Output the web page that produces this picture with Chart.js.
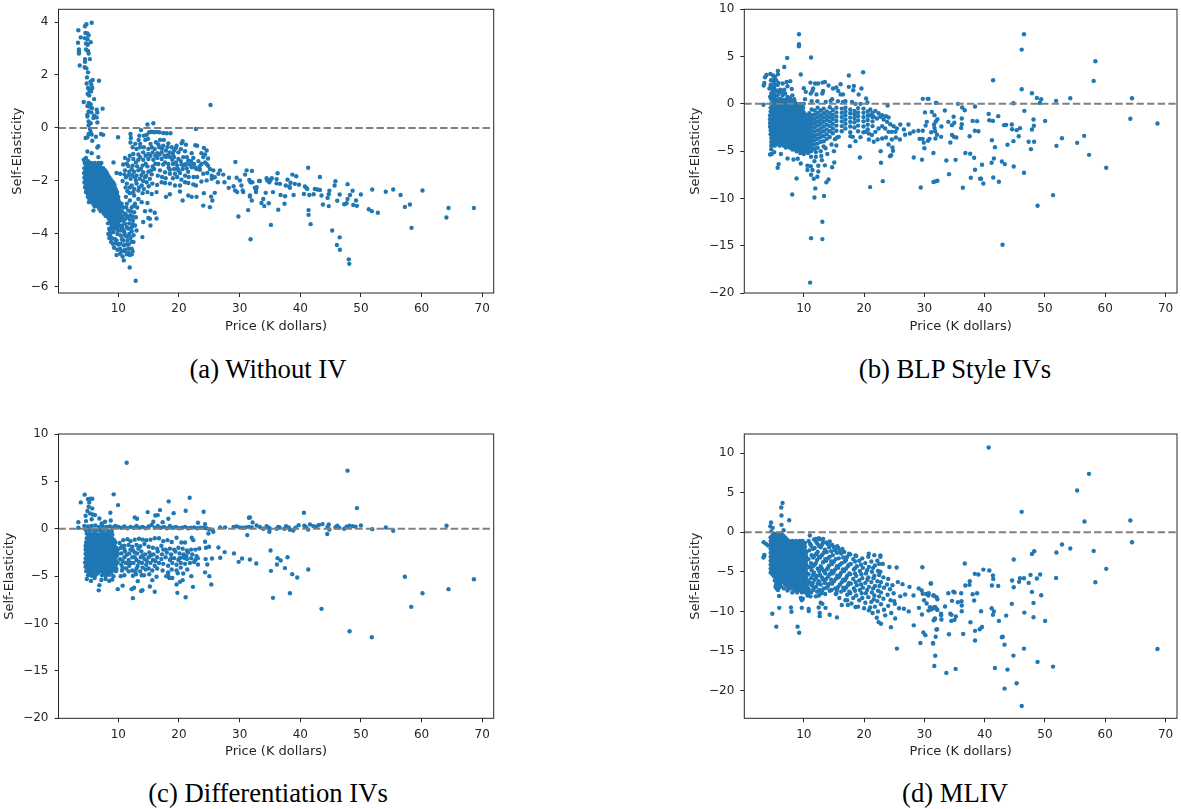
<!DOCTYPE html>
<html>
<head>
<meta charset="utf-8">
<title>Self-elasticity panels</title>
<script src="https://cdn.jsdelivr.net/npm/chart.js@4"></script>
<style>
  html, body { margin: 0; background: #fff; }
  body { position: relative; width: 1181px; height: 809px; overflow: hidden; }
  canvas { position: absolute; }
  .caption {
    position: absolute; width: 500px; text-align: center; color: #000;
    font: 26.7px "Liberation Serif", serif; line-height: 28px;
  }
</style>
</head>
<body>
<canvas id="panelA" width="590" height="350" style="left:0;top:0"></canvas>
<canvas id="panelB" width="581" height="350" style="left:600px;top:0"></canvas>
<canvas id="panelC" width="590" height="350" style="left:0;top:425px"></canvas>
<canvas id="panelD" width="581" height="350" style="left:600px;top:425px"></canvas>
<div class="caption" style="left:18px;top:355px">(a) Without IV</div>
<div class="caption" style="left:705px;top:355px">(b) BLP Style IVs</div>
<div class="caption" style="left:18px;top:779px">(c) Differentiation IVs</div>
<div class="caption" style="left:705px;top:779px">(d) MLIV</div>

<script>
const xTicks = [10, 20, 30, 40, 50, 60, 70];
const yTicksA = [4, 2, 0, -2, -4, -6];
const yTicksB = [10, 5, 0, -5, -10, -15, -20];
const yTicksC = [10, 5, 0, -5, -10, -15, -20];
const yTicksD = [10, 5, 0, -5, -10, -15, -20];

// [price, self-elasticity]
const pointsA = [
[5.6,3.97],[4.73,3.92],[4.5,3.84],[3.4,3.69],[4.56,3.59],[4.9,3.57],[5.1,3.5],[3.8,3.42],[4.5,3.39],[4.9,3.35],[5.44,3.24],[3.35,3.22],[4.67,3.19],[4.95,3.14],[4.67,2.96],[3.5,2.96],[5,2.91],[3.5,2.89],[3.5,2.81],[5.1,2.81],[4.5,2.6],[5.3,2.6],[4.5,2.5],[3.63,2.36],[4.45,2.29],[4.73,2.25],[5,2.1],[4.83,1.91],[5.77,1.81],[6.8,1.78],[5.44,1.76],[4.78,1.68],[5.55,1.63],[5,1.51],[5.7,1.51],[5.2,1.43],[5.5,1.38],[4.95,1.28],[5.2,1.23],[6,1.09],[4.29,.98],[5.1,.94],[5.44,.9],[4.9,.83],[5.33,.8],[5.66,.75],[7.4,.73],[6.43,.69],[5.1,.62],[6.54,.58],[5.55,.59],[4.9,.5],[6,.46],[4.9,.43],[6.43,.4],[5.88,.38],[5.1,.25],[5.44,.18],[6.54,.21],[5.1,.1],[5.33,-.04],[5.44,-.16],[5.1,-.23],[5.6,-.25],[7.14,-.23],[7.5,-.26],[6.3,-.33],[4.6,-.38],[4.9,-.35],[5.7,-.48],[9.95,-.35],[6.7,-.69],[6.54,-.74],[4.9,-.89],[5.6,-.95],[4.67,-1.13],[6.7,-1.1],
[4.3,-1.2],[5,-1.25],[9.2,-1.3],[9.7,-1.7],[10.3,-1.73],[5.15,-2.8],[5.9,-3.12],
[8.6,-3.87],[8.35,-4],[8.5,-4.15],[8.9,-4.15],[9.45,-4.2],[9.2,-3.93],[9.85,-4],[9.7,-4.25],[9.1,-4.37],[9.3,-4.52],[9.85,-4.6],[10.3,-4.56],[9.7,-4.8],[10.3,-4.75],[10.7,-4.85],[10.9,-5],[10.55,-4.65],[11.1,-4.6],[11.65,-4.56],[12.2,-4.56],[12.35,-4.65],[11.65,-4.72],[12.2,-4.77],[11.9,-4.8],[11.4,-4.77],[11.87,-5.27],[12.86,-5.77],[13.96,-4.12],[12.5,-4.3],
[10.8,-3],[11.4,-2.86],[11.9,-2.74],[11.1,-3.24],[11.65,-3.12],[12.2,-3],[12.75,-2.86],[10.8,-3.5],[11.5,-3.37],[12,-3.3],[12.6,-3.18],[13.1,-3],[10.55,-3.68],[11.1,-3.62],[11.8,-3.6],[12.4,-3.5],[12.9,-3.37],[10.3,-3.87],[10.9,-3.87],[11.65,-3.8],[12.2,-3.75],[12.75,-3.68],[10.4,-4.06],[11.1,-4.06],[11.8,-4],[13,-3.87],[10.8,-4.25],[11.5,-4.25],[12,-4.15],[10.3,-4.37],[10.9,-4.43],[10.55,-2.86],[11.25,-2.6],[11.9,-2.46],[12.6,-2.55],[13.3,-2.68],[13.85,-2.8],[14.8,-2.83],[14.4,-3.14],[15.3,-3.12],[16,-3.2],[16.3,-3.42],[15.2,-3.43],[14.1,-3.55],[14.95,-3.4],[15.3,-3.68],
[10.6,-3.15],[11.4,-3.3],[12.05,-3.15],[12.4,-3.35],[11.3,-3],[12.5,-2.95],[10.7,-3.35],[11.1,-3.45],[11.4,-3.75],[11.9,-3.45],[12.4,-3.65],[10.6,-3.75],[11,-3.95],[11.4,-4.1],[12.2,-3.9],[12.5,-4.05],[10.6,-4.2],[11.3,-4.4],[11.7,-4.4],[12.2,-4.3],[11,-4.65],[10,-4.4],[9.6,-4.35],[8.8,-4.3],[8.7,-4],[9.9,-3.85],
[12,-.23],[12.05,-.38],[13.46,-.29],[13.35,-.45],[13.74,-.08],[14.8,.13],[15.77,.18],[15.1,-.16],[15.5,-.14],[15.9,-.16],[16.3,-.15],[16.75,-.16],[17.4,-.19],[17.97,-.2],[18.6,-.2],[22.8,-.04],[14.45,-.45],[14.9,-.41],[14.67,-.26],[14.2,-.29],[16.2,-.54],[16.87,-.45],[17.5,-.45],[12.36,-.73],[13,-.79],[13.57,-.73],[14.2,-.73],[14.95,-.79],[15.5,-.73],[16,-.79],[16.76,-.73],[17.4,-.67],[18.24,-.58],[18.8,-.73],[19.6,-.67],[20.44,-.58],[20.6,-.5],[21.15,-.63],[22.7,-.65],[23,-.67],[24.1,-.75],[24.56,-.85],
[12.47,-.98],[13.3,-1],[14.1,-.92],[14.95,-.98],[15.66,-.92],[16.43,-.95],[17.14,-.92],[17.86,-.85],[18.5,-.92],[19.2,-.85],[19.9,-.92],[21,-.88],[22.1,-.95],[23.7,-.95],[24.3,-1],[11.1,-1.13],[11.65,-1.2],[12.47,-1.17],[13.3,-1.2],[14.1,-1.2],[14.95,-1.17],[15.77,-1.2],[16.43,-1.13],[17.14,-1.17],[17.86,-1.1],[18.5,-1.1],[19.2,-1.1],[19.9,-1.17],[20.7,-1.1],[21.54,-1.23],[22.36,-1.13],[24,-1.1],[10.8,-1.38],[11.65,-1.44],[12.36,-1.42],[13.1,-1.45],[14,-1.42],[14.8,-1.45],[15.66,-1.45],[16.6,-1.36],[17.4,-1.38],[18.24,-1.36],[19,-1.36],[19.7,-1.42],[20.44,-1.38],[21.15,-1.36],[21.8,-1.38],[22.47,-1.36],[23.7,-1.36],[24.56,-1.36],[24.8,-1.43],
[11.1,-1.6],[11.8,-1.65],[12.6,-1.65],[13.3,-1.6],[14.1,-1.67],[14.95,-1.65],[15.9,-1.55],[16.87,-1.6],[17.7,-1.67],[18.5,-1.58],[19.2,-1.55],[19.9,-1.6],[20.6,-1.55],[21.26,-1.52],[22.1,-1.48],[22.9,-1.55],[23.46,-1.58],[25.1,-1.55],[25.66,-1.6],[11.26,-1.86],[12.03,-1.92],[12.75,-1.86],[13.57,-1.92],[14.4,-1.86],[15.2,-1.92],[18.5,-1.73],[19.34,-1.73],[20.16,-1.7],[21,-1.8],[24,-1.73],[24.67,-1.7],[25.4,-1.8],[25.9,-1.86],[26.76,-1.6],[26.5,-1.73],[27.3,-1.76],
[11.4,-2.1],[12.2,-2.17],[13,-2.1],[13.85,-2.17],[14.67,-2.05],[17.14,-2.05],[17.7,-2.08],[18.5,-2.1],[19.34,-2.17],[20.16,-2.17],[21,-2.05],[21.54,-2.08],[22.36,-2.13],[22.8,-2.17],[23.7,-2.02],[24.56,-1.98],[25.4,-1.92],[26.4,-2.05],[27.5,-2.05],[28.2,-2.26],[28.24,-1.88],[29.3,-1.28],[11.5,-2.39],[12.47,-2.42],[13.3,-2.36],[14,-2.46],[14.8,-2.42],[15.5,-2.49],[16.3,-2.42],[17.86,-2.6],[18.5,-2.5],[20.16,-2.4],[20.6,-2.74],[21.54,-2.55],[22.1,-2.6],[22.9,-2.6],[24.1,-2.46],[24,-2.93],[25.1,-2.99],[25.5,-2.74],[25.3,-2.59],[25.9,-2.45],
[11.4,-1.35],[11.9,-1.05],[12.2,-1.55],[12.9,-1.3],[13.6,-1.1],[13.7,-1.55],[14.5,-1.05],[14.5,-1.35],[15.3,-1.05],[15.4,-1.6],[16.1,-1.05],[16.1,-1.35],[16.6,-.62],[16.8,-1],[17.2,-.78],[17.6,-1.05],[17.7,-1.3],[18.1,-.72],[18.2,-1.02],[18.3,-1.5],[18.9,-1.2],[19,-.98],[19.5,-.75],[19.5,-1.3],[19.8,-1.55],[20.3,-.8],[20.3,-1.25],[20.8,-1.4],[21.3,-1.1],[21.5,-1.65],[22,-1.25],[22.7,-1.5],[23.2,-1.25],[23.4,-1.45],[24.3,-1.3],[24.8,-1.15],[16.5,-1.8],[17.2,-1.85],[17.8,-1.9],[19,-1.9],[19.7,-1.85],[20.4,-1.95],[21.6,-1.85],[22.4,-1.85],[23,-1.85],[11.2,-2.25],[11.9,-2.25],[12.6,-2.3],[13.4,-2.25],[14.2,-2.3],[15,-2.2],[11,-1.75],[11.7,-1.78],[12.3,-1.78],[13,-1.8],[13.8,-1.78],[14.6,-1.8],[15.5,-1.75],[10.7,-2],[12.9,-1.98],[14.1,-2],[15.6,-2.1],[16.4,-2.15],[12,-.55],[12.8,-.6],[13.6,-.6],[15.3,-.6],
[29.8,-3.34],[31.8,-4.2],[25.2,.87],[29.5,-1.88],[30.05,-1.98],[29,-2.2],[29.26,-2.36],[29.6,-2.42],[30.3,-2.17],[30.5,-2.36],[30.6,-2.42],[30.9,-1.76],[31.15,-1.6],[31.6,-1.96],[31.8,-2.05],[32,-2.74],[31.4,-3.1],[31.7,-2.55],[32.7,-2.42],[32.8,-2.24],[33.2,-2],
[32.03,-1.62],[32.1,-2.05],[32.5,-2.26],[32.7,-2.34],[31.7,-2.59],[33.35,-2],[34.45,-1.9],[34.56,-1.98],[34.9,-2.05],[35.1,-1.96],[35.3,-1.9],[34.3,-2.45],[33.9,-2.68],[33.6,-2.83],[34.07,-2.95],[34.8,-2.84],[35.5,-2.42],[35.16,-3.66],[36.37,-3.09],[36.26,-1.71],[36.1,-1.93],[36.1,-2.09],[36.65,-2.11],[36.76,-2.53],[37.4,-2.86],[37.5,-2.58],[37.6,-2.17],[37.9,-1.95],[38.2,-2.21],[38.4,-2.07],[38.3,-2.26],[38.7,-1.76],[39.34,-1.82],[39.1,-2.11],[38.9,-2.53],[39.8,-2.14],[40.6,-2.49],[40.77,-2.21],[41,-2.26],[41.15,-2.3],[41.3,-1.5],[41.5,-2.53],[42.2,-2.5],[42.4,-2.3],[42.8,-2.32],[43.24,-2.34],[43.24,-1.85],[43.5,-2.55],[43.74,-2.89],[41.37,-3.1],[41.37,-3.28],[41.7,-3.63],[44.5,-2.64],[44.7,-2.5],[44.8,-2.37],[44.7,-2.95],[45.27,-3.87],[45.66,-2.17],[45.8,-2.01],[46.1,-2.75],[46.5,-2.51],[46.5,-4.13],[46.04,-4.42],[46.54,-4.6],[47.25,-2.88],[47.64,-2.84],[47.8,-2.12],[47.8,-2.68],[48.2,-2.53],[48.63,-2.37],[48,-4.96],[48.08,-5.13],[48.74,-2.91],[49.2,-2.74],[49.34,-2.94],[50,-2.51],[51.3,-3.07],[51.8,-3.14],[51.87,-2.32],[52.8,-3.2],[54.1,-2.41],[55.33,-2.32],[56.54,-2.53],[57.25,-2.98],[58.08,-2.89],[58.35,-3.77],[60.16,-2.36],[64.1,-3.38],[64.45,-3.02],[68.63,-3.02]
];

// dense cloud of panel a: [self-elasticity, [prices]] rows
const cloudA = [
[-1.32,[4.45,4.95,5.5,6.1,6.7,7.2]],[-1.42,[4.7,5.25,5.85,6.4,6.95]],[-1.52,[4.4,4.95,5.45,6,6.55,7.1,7.5]],[-1.6,[4.65,5.2,5.75,6.3,6.85,7.4,7.85]],[-1.7,[4.35,4.85,5.4,5.95,6.5,7.05,7.6,8.1]],[-1.79,[4.6,5.15,5.65,6.2,6.75,7.3,7.85,8.3]],[-1.88,[4.4,4.9,5.45,6,6.55,7.1,7.65,8.15,8.55]],[-1.97,[4.65,5.2,5.8,6.3,6.85,7.4,7.95,8.5,8.85]],[-2.06,[4.4,4.95,5.5,6.05,6.6,7.15,7.7,8.25,8.8,9.15]],[-2.15,[4.7,5.25,5.8,6.35,6.9,7.45,8,8.55,9.05,9.35]],[-2.24,[4.5,5,5.55,6.1,6.65,7.2,7.75,8.3,8.85,9.4]],[-2.33,[4.75,5.3,5.85,6.4,6.95,7.5,8.05,8.6,9.15,9.6]],[-2.42,[4.65,5.1,5.65,6.2,6.75,7.3,7.85,8.4,8.95,9.5,9.8]],[-2.51,[5,5.55,6.05,6.6,7.15,7.65,8.2,8.75,9.25,9.75]],[-2.6,[4.95,5.4,5.9,6.45,7,7.5,8.05,8.6,9.1,9.65,10]],[-2.69,[5.25,5.7,6.2,6.7,7.25,7.75,8.3,8.85,9.4,9.95]],[-2.78,[5.45,5.9,6.45,6.95,7.5,8.05,8.55,9.1,9.65,10.1]],[-2.87,[5.85,6.35,6.9,7.4,7.95,8.5,9.05,9.6,10.15]],[-2.96,[6.1,6.65,7.2,7.75,8.3,8.85,9.4,9.95,10.3]],[-3.05,[6.85,7.4,7.95,8.5,9,9.55,10.1]],[-3.14,[7.1,7.65,8.25,8.8,9.3,9.85,10.3]],[-3.23,[7.6,8.1,8.65,9.2,9.75,10.3]],[-3.32,[7.9,8.4,8.95,9.5,10,10.4]],[-3.41,[8.4,8.9,9.45,10,10.3]],[-3.5,[8.6,9.15,9.7,10.2]],[-3.6,[8.3,8.8,9.35,9.9]],[-3.7,[8.9,9.5,10.05]],[-3.8,[8.5,9.05,9.65]]
];

const pointsB = [
[9.2,7.36],[9.2,6.3],[9.18,6.09],[11.2,4.9],[7.25,4.86],[6.76,3.9],[9.5,3.1],[5.7,3.49],[5.7,3.13],[4.45,3.17],[3.8,3.06],[3.57,2.82],[4.9,3],[5.2,2.85],[3.46,2.2],[3.35,1.94],[4.56,2.5],[5,2.3],[5.4,2.5],[5.8,2.2],[4.3,1.62],[4.7,1.8],[5.16,2],[5.66,2],[6.5,2.15],[7.15,2.32],[7.75,2.4],[7.3,1.87],[6.76,1.5],[8,1.58],[6.1,1.5],[5.4,1.37],[4.84,1.27],[4.4,.74],[5.66,.9],[6.5,.9],[7.3,.74],[8.4,.5],[5.27,.56],[6.1,.53],[6.9,.39],[3.3,-.1],[4.6,1.1],[5.1,1.6],[5.2,.95],[5.9,1.2],[6.3,1.25],[6.9,1.1],[7.2,.3],[7.7,.6],[8.1,.9],[4.8,.75],[5.6,1.4],[4.5,2],[4.9,1.55],[5.1,2.6],
[11.1,2.25],[11.87,2.15],[12.36,2.15],[13.1,2.25],[13.5,2.32],[14.1,1.94],[14.84,1.62],[15.4,1.73],[16.1,2.08],[17.47,3],[19.84,3.34],[17.47,1.8],[18.3,1.9],[18.2,1.44],[19.56,1.62],[19.1,.99],[20.33,.56],[20.55,.14],[10,1.65],[10.33,1.27],[11.15,1.09],[11.54,1.62],[11.43,1.37],[12.1,1],[13.2,1.37],[13.08,1.09],[15.7,1.37],[16.1,1],[16.5,1],[10.2,.5],[11.3,.28],[12.25,.28],[13.63,.2],[14.7,.5],[14.45,.32],[15.66,.28],[16.5,.2],[16.9,.28],[18,.2],[18.57,0],[19.4,0],
[5.66,-6.76],[5.82,-6.37],[4.67,-5.3],[6.2,-5.3],[7.3,-5.77],[8.3,-5.88],[9,-5.8],[9.5,-6.3],[8.8,-7.9],[8.08,-9.58],[11.2,-7.5],[10.6,-7],[11.65,-7.92],[12.25,-7.7],[12.4,-7.15],[11.43,-7],[11.9,-8.94],[11.76,-9.9],[13.35,-9.75],[14.1,-8],[13.74,-8.3],[13.08,-12.46],[11.2,-14.2],[13.08,-14.3],[11.04,-18.9],[13.5,-6.5],[14.7,-6.7],[15.05,-6.2],[12.4,-6.55],[11.15,-6.6],[10.6,-6.55],[11.76,-6.06],[13,-5.95],[21,-8.8],[23.1,-8.17],[22.8,-6.23],[22.75,-5],[24.5,-5.42],[24.3,-5.53],[24.8,-4.96],[24.7,-4.6],[24.06,-4.3],[19.3,-5.67],[17.64,-4.47],[18.57,-3.94],[19.4,-3.52],[17.75,-3.42],[18.13,-3.49],[15.5,-3.56],[15.8,-3.49],[15.16,-3.73],[28.24,-5.67],[29.6,-5.9],[29.4,-8.84],[4.6,-4.8],[5.1,-5.1],[4.4,-5.35],[9.4,-5.2],[10,-5.3],[10.7,-5.2],
[14.6,-4.3],[15.4,-4.4],[13.6,-4.7],[15,-5],[13.9,-5.3],[11.2,-5],[12,-5.1],[12.8,-5],[11.2,-5.6],[12,-5.6],[12.9,-5.5],
[21.04,-.6],[21.87,-.74],[22.4,-1],[23.9,-.18],[23.63,-1.3],[24.06,-1.44],[23,-1.2],[21,-1.2],[21.6,-1.37],[22.14,-1.55],[22.7,-1.37],[23.24,-1.65],[23.8,-1.9],[24.34,-2.15],[24.9,-2.36],[25.44,-2.6],[26,-2.18],[27.36,-2.18],[26.6,-2.7],[27.6,-3.13],[28.2,-2.92],[29,-2.85],[29.73,-2.85],[26.8,-3.27],[25.93,-3.77],[25.27,-3.55],[24.6,-3.77],[23.63,-3.55],[23,-3.66],[22.25,-3.77],[21.6,-4],[20.8,-3.77],[20.2,-2.96],[20.77,-3.13],[21.3,-3.3],[21.87,-2.96],[22.4,-2.6],[23,-2.36],[23.5,-2.6],[24.06,-2.96],[24.6,-2.96],[25.2,-2.96],
[46.52,7.36],[46.14,5.74],[58.36,4.5],[41.4,2.5],[58.08,2.43],[46.14,1.55],[47.84,1.13],[48.66,.63],[49.37,.49],[49.15,.1],[51.84,.32],[54.2,.6],[64.44,.6],[44.77,.07],[38.4,-.28],[35.56,0],[36.27,-.39],[36.7,-.67],[33.4,-.7],[32,.1],[30.68,.53],[29.73,.53],[30.55,.53],[31.9,.1],[31.23,-.85],[31.67,-1.2],[32.16,-1.62],[31.9,-1.87],[31.6,-2.18],[31.67,-2.54],[32.82,-2.4],[33.97,-1.9],[34.85,-1.37],[34.96,-2],[34.58,-2.25],[36.2,-1.55],[36.2,-2.15],[36.1,-2.54],[38,-1.8],[38.74,-1.83],[38.36,-2.85],[38.96,-2.89],[37.5,-3.42],[34.58,-3.3],[34.9,-3.49],[35.3,-3.56],[34.3,-4.08],[32.77,-3.49],[32.1,-3.27],[31.84,-3.66],[31.12,-3],[31.78,-2.89],[30.85,-3.7],[31.5,-5.2],[33.64,-5.99],[35.18,-5.92],[36.8,-5.2],[37.6,-5.28],[38.25,-5.7],[38.4,-6.97],[39.56,-6.44],[34.08,-7.43],[31.5,-8.27],[31.78,-8.2],[32.16,-8.13],[36.38,-8.87],[37.7,-7.82],[39.23,-7.92],[39.4,-7.92],[39.78,-8.42],[40.66,-1.06],[40.77,-1.73],[41.37,-1.8],[42.25,-1.3],[43.23,-2.25],[43.56,-2.22],[44.5,-2.18],[44.55,-2.68],[45.3,-2.78],[45.86,-2.57],[46.58,-.74],[48.1,-1.65],[48.16,-2.32],[47.84,-2.71],[50.03,-1.8],[45.64,-3.42],[44.77,-3.94],[43.78,-4.33],[41.2,-3.84],[41.7,-4.58],[41.53,-5.77],[41.15,-6.23],[42.85,-6.09],[43.34,-6.37],[44.82,-6.62],[46.52,-7.29],[41.42,-7.78],[42.36,-8.24],[42.96,-14.9],[47.3,-4.01],[48.2,-4.01],[47.67,-4.79],[51.9,-4.44],[52.82,-3.63],[55.34,-4.12],[56.5,-3.38],[57.32,-5.39],[60.16,-6.76],[51.34,-9.65],[48.77,-10.77],[64.16,-1.58],[68.66,-2.08],
[30.1,-.9],[30.4,-1.9],[30.2,-2.3],[29.7,-3.7],[29.9,-4.1],[30.6,-3.9],[29.2,-3.7],[30,-4.7]
];

const cloudB = [
[.45,[4.6,5.2,5.8,6.4,7,7.6]],[.2,[4.9,5.5,6.1,6.7,7.3,7.9,8.5]],[0,[4.6,5.2,5.8,6.4,7,7.6,8.2,8.8,9.4,10]],[-.22,[4.8,5.4,6,6.6,7.2,7.8,8.4,9,9.6]],[-.42,[4.5,5.1,5.7,6.3,6.9,7.5,8.1,8.7,9.3,9.9]],[-.62,[4.8,5.4,6,6.6,7.2,7.8,8.4,9,9.6]],[-.82,[4.5,5.1,5.7,6.3,6.9,7.5,8.1,8.7,9.3,9.9]],[-1.02,[4.7,5.3,5.9,6.5,7.1,7.7,8.3,8.9,9.5,10.1]],[-1.22,[4.4,5,5.6,6.2,6.8,7.4,8,8.6,9.2,9.8,10.4]],[-1.42,[4.7,5.3,5.9,6.5,7.1,7.7,8.3,8.9,9.5,10.1]],[-1.62,[4.4,5,5.6,6.2,6.8,7.4,8,8.6,9.2,9.8,10.4]],[-1.82,[4.7,5.3,5.9,6.5,7.1,7.7,8.3,8.9,9.5,10.1]],[-2.02,[4.4,5,5.6,6.2,6.8,7.4,8,8.6,9.2,9.8,10.4]],[-2.22,[4.7,5.3,5.9,6.5,7.1,7.7,8.3,8.9,9.5,10.1]],[-2.42,[4.4,5,5.6,6.2,6.8,7.4,8,8.6,9.2,9.8,10.4]],[-2.62,[4.7,5.3,5.9,6.5,7.1,7.7,8.3,8.9,9.5,10.1]],[-2.82,[4.5,5.1,5.7,6.3,6.9,7.5,8.1,8.7,9.3,9.9,10.5]],[-3.02,[4.8,5.4,6,6.6,7.2,7.8,8.4,9,9.6,10.2]],[-3.22,[4.5,5.1,5.7,6.3,6.9,7.5,8.1,8.7,9.3,9.9,10.5]],[-3.42,[4.9,5.5,6.1,6.7,7.3,7.9,8.5,9.1,9.7,10.3]],[-3.62,[4.6,5.2,5.8,6.4,7,7.6,8.2,8.8,9.4,10,10.6]],[-3.82,[4.9,5.5,6.1,6.7,7.3,7.9,8.5,9.1,9.7,10.3]],[-4.02,[4.6,5.2,5.8,6.4,7,7.6,8.2,8.8,9.4,10,10.6]],[-4.22,[5,5.7,6.4,7,7.6,8.2,8.8,9.4,10,10.6]],[-4.42,[4.6,5.2,6,6.7,7.3,7.9,8.5,9.1,9.7,10.3]],[-4.62,[7,7.6,8.2,8.8,9.4,10,10.6]],[-4.82,[8.1,8.7,9.3,9.9,10.5]],[-5.02,[8.8,9.6,10.3,11]]
];

// transition of panel b right of the cloud: [price, [self-elasticities]] columns
const columnsB = [
[10.9,[-1,-1.4,-1.8,-2.2,-2.6,-3,-3.4,-3.8,-4.2,-4.6]],[11.3,[-.6,-1.2,-1.6,-2,-2.4,-2.8,-3.2,-3.6,-4,-4.4,-4.8]],[11.8,[-.7,-1.15,-1.6,-2.05,-2.5,-2.95,-3.4,-3.85,-4.3,-4.75]],[12.3,[-.4,-.95,-1.4,-1.85,-2.3,-2.8,-3.25,-3.7,-4.2,-4.65]],[12.8,[-.7,-1.2,-1.65,-2.1,-2.6,-3.05,-3.5,-4]],[13.3,[-.5,-1,-1.45,-1.9,-2.4,-2.9,-3.4,-3.95,-4.5]],[13.8,[-.8,-1.25,-1.7,-2.2,-2.7,-3.2,-3.7]],[14.3,[-.35,-.95,-1.4,-1.85,-2.35,-2.9,-3.5]],[14.8,[-.65,-1.15,-1.6,-2.1,-2.6,-3.1]],[15.4,[-.4,-.9,-1.35,-1.8,-2.3,-2.85]],[16.3,[-.5,-.95,-1.4,-1.85,-2.35,-2.9]],[16.9,[-.4,-.8,-1.2,-1.65,-2.1,-2.6]],[17.7,[-.6,-1,-1.45,-1.9,-2.4,-3]],[18.4,[-.75,-1.1,-1.5,-1.95,-2.5]],[19,[-.45,-.9,-1.3,-1.75,-2.3,-2.9]],[19.9,[-.5,-.95,-1.4,-1.85,-2.4,-3]],[20.6,[-.8,-1.25,-1.7,-2.2,-2.7]],[21.4,[-.95,-1.4,-1.85,-2.35]]
];

const pointsC = [
[11.37,6.97],[4.45,3.6],[9.23,3.63],[3.8,2.78],[4.98,3.13],[5.33,3.17],[5.7,3.17],[5.2,2.78],[9.95,2.5],[5.1,2.32],[5.7,2.15],[4.9,1.87],[5.33,1.62],[5.77,1.51],[8.68,1.69],[4.6,1.37],[6.15,1.44],[6.87,1.09],[5.6,1],[3.4,.7],[4.67,.81],[7.8,.74],[7.25,.56],[8.74,.88],[12.7,1.2],[13.08,1.06],[14.84,1.76],[16.1,1.4],[16.5,1.44],[16.87,1.97],[18.3,2.89],[21.76,3.27],[21.1,1.9],[19.12,1.65],[18.24,1.06],[24.07,1.8],[23.13,.63],[17.3,.7],[15.77,.74],[24.3,.49],[31.54,1.16],[32.14,.67],[32.8,.35],[3.4,.1],
[9.5,.3],[10,.2],[10.5,.1],[11,.25],[11.5,.05],[12,.2],[12.5,.1],[13,.3],[13.5,.1],[14,.2],[14.5,.05],[15,.25],[15.5,.4],[16,.1],[16.5,.3],[17,.1],[17.5,.2],[18,.05],[18.5,.3],[19,.1],[19.5,.2],[20,.05],[20.5,.1],[21,.2],[21.5,.05],[22,.1],[22.5,.15],[23,.05],[23.5,.1],[24,.1],[24.5,.05],[25,-.05],[25.5,-.1],[26.8,.15],[27.6,.15],[29,.2],[29.5,.25],[30,.15],[30.5,.1],[31,.15],[31.5,.2],[32,.15],
[31.7,1.2],[33.35,.18],[33.9,0],[34.45,.28],[34.8,.1],[35,0],[34.9,-.32],[36.1,0],[36.37,.2],[36.6,.14],[37.4,0],[37.64,.28],[38.1,.14],[38.3,-.1],[38.85,-.18],[39.2,.1],[39.73,.38],[40.6,1.69],[40.66,.32],[40.9,.2],[41.3,-.07],[41.6,.46],[42.14,.28],[42.7,.25],[43.08,.39],[43.68,.49],[44.5,.18],[44.7,.46],[44.8,-.07],[44.45,-.56],[45.8,.14],[46.1,.32],[46.43,.1],[47.25,0],[47.64,.21],[48.08,.32],[48.63,.28],[49.12,.21],[50,.35],[49.34,2.18],[47.8,6.13],[51.87,-.04],[54.12,.14],[55.33,-.21],[64.12,.32],
[31.7,-3.24],[32.75,-3.66],[35.1,-2.29],[36.26,-3.1],[36.76,-3.35],[37.9,-3],[36.15,-3.77],[35.16,-4.44],[37.47,-4.15],[38.68,-4.79],[39.5,-5.14],[41.32,-4.3],[35.5,-7.29],[38.3,-6.8],[43.5,-8.45],[48.13,-10.81],[51.8,-11.44],[57.25,-5.07],[58.3,-8.24],[60.16,-6.8],[64.45,-6.37],[68.63,-5.32],
[26.5,-1.97],[27.53,-2.46],[26.8,-3.06],[29.07,-2.6],[29.84,-3.49],[30.4,-3.13],[25.44,-3.13],[24.4,-3.2],[24.67,-3.77],[24.3,-4.6],[25,-5],[25.33,-5.88],[24.45,-2],[24.95,-1.9],[24.3,-1.37],[23.35,-2.08],[22.36,-1.2],[22.1,-.95],[24.85,-.5],[25.66,-.32],[31.26,-.67],[23.13,-3.77],[22.3,-6.13],[22.03,-5],[21.1,-7.22],[19.73,-6.76],[21.37,-4.3],[20.7,-4.72],[20.6,-5.42],[20.16,-5.6],[19.6,-5.88],[16,-6.65],[15.2,-6.1],[13.96,-6.48],[13.74,-6.58],[12.4,-7.32],[12.6,-6.23],[12.2,-6.37],[13.2,-5.53],[12.4,-4.96],[10.7,-6],[9.9,-6.37],[6.76,-6.5],[6.87,-5.95],[15.6,-5.42],[16.3,-5.07],[13.85,-4.9],[14.23,-4.9],
[4.4,.3],[5,.25],[5.6,.3],[6.2,.35],[6.8,.2],[7.4,.3],[8,.2],[8.6,.25],[9,.15],[4.6,-.1],[5.2,-.15],[5.8,-.1],[6.4,-.2],[7,-.15],[7.6,-.1],[8.3,-.2],[8.9,-.25],[4.8,-.5],[5.4,-.55],[6,-.5],[6.6,-.6],[7.2,-.45],[7.8,-.5],[8.4,-.55],[9,-.6],[5,-4.9],[5.6,-4.95],[6.3,-4.85],[7.3,-4.9],[7.9,-4.95],[8.5,-4.85],[9.2,-5],[10.4,-5],[4.8,-5.3],[5.5,-5.5],[6.1,-5.2],[7.2,-5.4],[7.9,-5.3],[8.5,-5.5],[9,-5.35],
[10.2,-1.5],[10.8,-1.2],[11.5,-1.1],[12,-1.3],[12.7,-1.15],[13.4,-1.05],[14,-1.15],[14.6,-1.2],[15.3,-1.15],[16,-1],[16.7,-1],[17.4,-1.3],[18.1,-1.2],[18.8,-1.4],[19.6,-.95],[20.4,-1.45],[21,-1.45],[10.4,-2],[11,-1.8],[11.7,-1.7],[12.3,-1.9],[13,-1.7],[13.6,-1.85],[14.3,-1.6],[15,-1.9],[15.7,-2],[16.4,-2.1],[17.1,-1.8],[17.8,-2.2],[18.5,-2.1],[19.2,-2.2],[19.9,-2],[20.6,-2.1],[21.3,-2.3],[22,-2.2],[22.7,-2.2],[10.5,-2.6],[11.1,-2.4],[11.8,-2.6],[12.4,-2.3],[13.1,-2.6],[13.8,-2.4],[14.4,-2.7],[15.1,-2.5],[15.8,-2.7],[16.5,-2.4],[17.2,-2.7],[18,-2.5],[18.7,-2.7],[19.4,-2.4],[20.1,-2.6],[20.8,-2.7],[21.5,-2.5],[22.2,-2.7],[22.9,-2.9],[10.3,-3.2],[11,-3],[11.7,-3.3],[12.3,-3],[13,-3.3],[13.7,-3],[14.3,-3.2],[15,-3],[15.7,-3.3],[16.4,-3],[17.1,-3.2],[17.8,-3],[18.5,-3.3],[19.2,-3.1],[19.9,-3.3],[20.6,-3],[21.3,-3.2],[22,-3.1],[22.7,-3.3],[23.1,-3.1],[10.5,-3.8],[11.2,-3.6],[11.8,-3.9],[12.5,-3.6],[13.2,-3.9],[13.9,-3.6],[14.6,-3.8],[15.3,-3.6],[16,-3.9],[16.7,-3.6],[17.4,-3.7],[18.2,-3.9],[18.9,-3.6],[19.6,-3.8],[20.3,-3.6],[21,-3.7],[21.8,-3.6],[22.5,-3.5],[10.6,-4.4],[11.3,-4.2],[12.3,-4.4],[13,-4.2],[13.6,-4.5],[14.5,-4.3],[15.6,-4.4],[16.4,-4.2],[17.3,-4.4],[18.2,-4.6],[18.8,-4.3],[19.6,-4.4],[20.3,-4.1],[11,-4.9],[12.9,-4.8],[15.1,-4.8],[17.9,-5],[18.4,-5.2],[18.9,-5.2],[18.2,-4.9],
[10.6,-1.85],[11,-2.2],[11.4,-2.75],[12,-2.2],[12.7,-2.5],[13.3,-2.1],[10.7,-3.4],[11.4,-3.6],[12,-3.6],[12.7,-3],[13.4,-3.5],[14,-2.85],[14.7,-3.4],[15.4,-2.8],[10.7,-4.1],[11.7,-4.5],[12.8,-4.5],[14,-4.1],[15,-4.2],[16.1,-3.4],[17.4,-2.2],[18.7,-3.1],[20.1,-3.1],[21.2,-2.9],[19.8,-4.7],[21,-3.1]
];

const cloudC = [
[-.75,[5.1,5.7,6.3,6.9,7.5,8.1,8.7]],[-1,[4.8,5.4,6,6.6,7.2,7.8,8.4,9]],[-1.2,[5.1,5.7,6.3,6.9,7.5,8.1,8.7,9.3]],[-1.42,[4.7,5.3,5.9,6.5,7.1,7.7,8.3,8.9,9.5]],[-1.62,[5,5.6,6.2,6.8,7.4,8,8.6,9.2]],[-1.82,[4.6,5.2,5.8,6.4,7,7.6,8.2,8.8,9.4]],[-2.02,[4.9,5.5,6.1,6.7,7.3,7.9,8.5,9.1,9.7]],[-2.22,[4.6,5.2,5.8,6.4,7,7.6,8.2,8.8,9.4,9.9]],[-2.45,[4.9,5.5,6.1,6.7,7.3,7.9,8.5,9.1,9.7]],[-2.67,[4.6,5.2,5.8,6.4,7,7.6,8.2,8.8,9.4,9.9]],[-2.9,[4.9,5.5,6.1,6.7,7.3,7.9,8.5,9.1,9.7]],[-3.12,[4.6,5.2,5.8,6.4,7,7.6,8.2,8.8,9.4]],[-3.34,[4.8,5.4,6,6.6,7.2,7.8,8.4,9,9.6]],[-3.57,[4.5,5.1,5.7,6.3,6.9,7.5,8.1,8.7,9.3,9.9]],[-3.8,[4.8,5.4,6,6.6,7.2,7.8,8.4,9,9.6]],[-4.02,[4.6,5.2,5.8,6.4,7,7.6,8.2,8.8,9.4]],[-4.25,[4.9,5.5,6.1,6.7,7.3,7.9,8.5,9.1,9.7]],[-4.47,[4.7,5.3,5.9,6.5,7.1,7.7,8.3,8.9,9.6]],[-4.7,[5.2,5.8,6.6,7.6,8.2,8.8]]
];

const pointsD = [
[6.48,3.7],[6.26,3.11],[6.3,2.1],[7.58,1.5],[6.3,.93],[4.56,1.22],[4.45,.76],[4.84,.55],[6.65,.25],[3.35,-1.26],[3.73,-1.47],[4.07,-1.68],[3.46,-2.86],[3.3,-3.2],[3.45,-3],
[4.78,-10.3],[5.44,-11.93],[5.93,-9.55],[7.86,-9.5],[7.96,-10.05],[9.67,-9.55],[10.82,-9.96],[10.8,-9.7],[8.96,-11.93],[9.23,-12.7],[12.64,-10.2],[12.64,-10.6],[14.29,-10.42],[15.5,-10.76],[12.47,-9.5],[13.6,-9.55],[13.08,-9.05],[12.8,-8.9],[9.67,-8.6],[9.84,-8.4],[5.9,-8.05],[5.5,-7.1],[5.3,-6.9],[5.7,-7.3],[9.5,-8.3],
[11,-.42],[12,-.84],[12.5,-.76],[13.2,-.84],[14.3,-1.18],[15.55,-1.76],[16.4,-2.1],[17.5,-2.73],[18.57,-2.94],[20.77,-2.73],[22.7,-2.94],[10.6,-8],[12.5,-8],[15.3,-7.8],[17.2,-8.6],[18.57,-9.45],[20.8,-9.87],[22.4,-11.35],[22.8,-11.57],[23.5,-10.5],[24.45,-12],[25.15,-10.9],[25.44,-14.7],
[10.8,-1.1],[11.2,-1.7],[10.9,-2.3],[11.3,-2.9],[10.8,-3.4],[11.2,-3.9],[10.9,-4.4],[11.3,-4.8],[10.8,-5.3],[11.2,-5.8],[10.9,-6.3],[11.3,-6.7],[10.8,-7.2],[11.2,-7.6],[11.1,-8.1],[11.7,-.9],[12.2,-1.4],[11.8,-2],[12.3,-2.5],[11.7,-3],[12.2,-3.5],[11.8,-4.1],[12.3,-4.6],[11.7,-5.1],[12.2,-5.5],[11.8,-6],[12.3,-6.5],[11.7,-7],[12.2,-7.5],[12,-8.1],[12.7,-.9],[13.2,-1.3],[12.8,-1.9],[13.3,-2.6],[12.7,-3.2],[13.2,-3.8],[12.8,-4.3],[13.3,-4.9],[12.7,-5.4],[13.2,-6],[12.8,-6.6],[13.3,-7.1],[12.9,-7.7],[13.7,-1.3],[14.2,-1.9],[13.8,-2.5],[14.3,-3.1],[13.7,-3.6],[14.2,-4.2],[13.8,-4.7],[14.3,-5.3],[13.7,-5.9],[14.2,-6.5],[13.8,-7],[14.3,-7.4],[14.7,-1.6],[15.2,-2.3],[14.8,-2.9],[15.3,-3.4],[14.7,-4],[15.2,-4.7],[14.8,-5.2],[15.3,-5.9],[14.7,-6.5],[15.2,-7.1],[15.4,-7.7],[15.7,-2],[16.2,-2.7],[15.8,-3.3],[16.3,-3.9],[15.7,-4.5],[16.2,-5.1],[15.8,-5.7],[16.3,-6.3],[15.7,-6.9],[16.2,-7.5],[15.9,-8.3],[16.3,-9.2],[16.7,-2.5],[17.2,-3.1],[16.8,-3.7],[17.3,-4.3],[16.7,-4.9],[17.2,-5.5],[16.8,-6.1],[17.3,-6.7],[16.7,-7.3],[17.2,-7.9],[16.9,-8.6],[17.3,-9.2],[17.7,-2.8],[18.2,-3.4],[17.8,-4],[18.3,-4.7],[17.7,-5.3],[18.2,-5.9],[17.8,-6.5],[18.3,-7.1],[17.7,-7.7],[18.2,-8.3],[17.9,-9],[18.7,-3],[19.2,-3.6],[18.8,-4.3],[19.3,-4.9],[18.7,-5.5],[19.2,-6.1],[18.8,-6.7],[19.3,-7.3],[18.7,-8],[19.2,-8.6],[19,-9.4],[19.7,-3.3],[20.2,-3.9],[19.8,-4.5],[20.3,-5.2],[19.7,-5.8],[20.2,-6.4],[19.8,-7],[20.3,-7.7],[19.7,-8.3],[20.2,-8.9],[20,-9.6],[20.7,-3.1],[21.2,-3.7],[20.8,-4.4],[21.3,-5],[20.7,-5.7],[21.2,-6.3],[20.8,-6.9],[21.3,-7.6],[20.7,-8.2],[21.2,-8.8],[21,-9.5],[21.4,-10.2],[21.7,-2.9],[22.2,-3.6],[21.8,-4.2],[22.3,-4.9],[21.7,-5.5],[22.2,-6.2],[21.8,-6.8],[22.3,-7.4],[21.7,-8],[22.2,-8.7],[21.8,-9.4],[22.3,-10],[22.1,-10.8],[22.7,-3.1],[23.1,-4],[22.7,-5],[23.2,-5.7],[22.8,-6.3],[23.3,-7],[22.8,-7.6],[23.2,-8.4],[22.8,-9.1],[23.3,-9.8],[24,-5.9],[23.8,-6.6],[24.3,-7.2],[23.9,-7.9],[24.4,-8.6],[24,-9.3],[24.5,-10.2],[24.7,-6.7],[24.9,-7.7],[25,-8.7],
[11.05,-1.45],[11.5,-2.1],[11.55,-3.2],[11.5,-4.3],[11.55,-5.4],[11.5,-6.4],[11.55,-7.3],[12,-1.15],[12.5,-1.7],[12.05,-2.75],[12.5,-3.1],[12,-3.9],[12.55,-4.9],[12,-5.8],[12.5,-6.2],[12.05,-6.9],[12.6,-7.3],[13,-1.6],[13.5,-2.2],[13,-2.9],[13.55,-3.4],[13,-4.6],[13.55,-5.2],[13,-5.7],[13.5,-6.4],[13.05,-7.4],[13.55,-7.8],[14,-1.5],[14.55,-2.4],[14,-3.3],[14.55,-3.7],[14,-4.5],[14.6,-4.9],[14.05,-5.6],[14.55,-6],[14,-6.8],[14.6,-7.3],[15,-1.9],[15.5,-2.6],[15,-3.7],[15.5,-4.3],[15,-5],[15.55,-5.5],[15,-6.2],[15.5,-7.3],[16,-2.4],[16.55,-3.2],[16,-4.1],[16.5,-4.7],[16,-5.4],[16.55,-6],[16,-6.6],[16.55,-7],[17,-3.5],[17.5,-4.1],[17,-4.6],[17.55,-5.2],[17,-5.8],[17.5,-6.4],[17,-7],[17.55,-7.5],[18.5,-3.7],[18.55,-4.5],[18.5,-5.2],[18.6,-6.3],[18.5,-7.4],[19.5,-4.1],[19.55,-5.3],[19.5,-6.6],[19.6,-7.7],[20.5,-4.8],[20.55,-6],[20.5,-7.3],[21.5,-4.5],[21.55,-5.8],[21.5,-7.1],[21.6,-8.5],[22.5,-4],[22.5,-5.4],[22.55,-6.8],[22.5,-8.1],
[24.2,-4.4],[25.4,-4.46],[25.6,-6.3],[26.37,-6.56],[27.53,-6.9],[26,-8.1],[26.8,-7.86],[28.2,-8],[29.07,-7.1],[29.67,-4.42],[29.56,-7.35],[29.73,-7.77],[29.95,-8.6],[29.1,-9.55],[29.6,-10.4],[27.4,-10],[26.6,-9.66],[25.8,-9.6],[25.1,-9.05],[28.24,-11.76],[29.83,-12.66],[30.17,-13],[29.34,-14],[31.43,-14],[31.04,-6.47],[30.33,-7.8],[30.66,-8],[31.48,-8],[32,-8.2],[30.38,-9],[30.93,-9.47],[31.65,-9.47],[32,-9.66],[31.76,-10.9],[31.54,-11.13],[32,-12.3],[31.87,-13.2],[31.8,-15.6],[31.65,-16.9],
[40.66,10.7],[57.3,7.37],[55.34,5.26],[46.14,2.57],[56.55,1.35],[64.16,1.47],[64.44,-1.26],[52.82,-1.56],[54.2,-2.06],[51.9,-2.57],[58.08,-2.36],[48.22,-2.4],[47.84,-2.74],[44.82,-3.45],[36.7,-3.96],[39.78,-4.72],[40.77,-4.84],[38.36,-5.26],[38.96,-5.35],[41.37,-5.47],[41.42,-5.9],[60.16,-4.63],[51.84,-5.77],[58.36,-6.32],[49.2,-5.35],[47.6,-5.39],[48.66,-5.85],[46.52,-5.81],[45.86,-5.81],[44.55,-6.1],[45.7,-6.27],[47.3,-6.4],[31.1,-6.48],[37.53,-6.19],[37.48,-6.65],[36.8,-6.74],[41.2,-6.74],[42.25,-6.78],[44.82,-6.95],[30.7,-7.7],[33.97,-7.7],[34.8,-7.5],[35,-7.62],[36.1,-7.7],[38,-7.83],[38.74,-7.7],[47.84,-7.54],[49.37,-7.96],[31.56,-8],[32.16,-8.46],[34.58,-8.67],[35.56,-8.84],[36.16,-8.72],[38.25,-8.63],[36.2,-9.26],[48.1,-8.93],[44.5,-9.05],[33.42,-9.39],[31.78,-9.43],[31.45,-9.6],[31.1,-9.77],[30.68,-9.9],[32.16,-9.81],[36.2,-9.98],[39.4,-9.98],[41.15,-9.6],[41.53,-10],[41.37,-10.44],[32.77,-10.3],[32.77,-10.5],[34.3,-10.3],[34.5,-10.44],[35.23,-10.65],[31.7,-11],[32.82,-11.03],[34.47,-11.2],[35,-11.07],[43.56,-10.53],[42.36,-11.2],[46.58,-10.15],[48.1,-10.74],[50.03,-11.2],[37.64,-11.37],[39.56,-11.96],[39.18,-12.25],[38.4,-12.46],[32.1,-12.25],[34.08,-12.88],[36.44,-12.84],[31.45,-14.06],[38.4,-13.68],[42.85,-13.26],[43,-13.2],[43.29,-14.2],[46.52,-14.7],[44.77,-15.58],[33.64,-17.77],[35.18,-17.26],[41.7,-17.14],[43.78,-17.35],[48.77,-16.38],[51.34,-16.97],[45.3,-19.07],[43.3,-19.75],[46.14,-21.94],[68.66,-14.74]
];

const cloudD = [
[.1,[4.6]],[-.2,[5.1,5.7,6.3]],[-.45,[4.8,5.4,6,6.6]],[-.65,[4.5,5.1,5.7,6.3,6.9]],[-.9,[4.8,5.4,6,6.6,7.2]],[-1.1,[4.5,5.1,5.7,6.3,6.9,7.5,8.1,8.7,9.3,9.8]],[-1.35,[4.8,5.4,6,6.6,7.2,7.8,8.4,9,9.6,10.2]],[-1.6,[4.5,5.1,5.7,6.3,6.9,7.5,8.1,8.7,9.3,9.9]],[-1.85,[4.8,5.4,6,6.6,7.2,7.8,8.4,9,9.6,10.2]],[-2.1,[4.5,5.1,5.7,6.3,6.9,7.5,8.1,8.7,9.3,9.9]],[-2.35,[4.8,5.4,6,6.6,7.2,7.8,8.4,9,9.6,10.2]],[-2.6,[4.5,5.1,5.7,6.3,6.9,7.5,8.1,8.7,9.3,9.9,10.4]],[-2.85,[4.8,5.4,6,6.6,7.2,7.8,8.4,9,9.6,10.2]],[-3.1,[4.5,5.1,5.7,6.3,6.9,7.5,8.1,8.7,9.3,9.9,10.4]],[-3.35,[4.8,5.4,6,6.6,7.2,7.8,8.4,9,9.6,10.2]],[-3.6,[4.5,5.1,5.7,6.3,6.9,7.5,8.1,8.7,9.3,9.9,10.4]],[-3.85,[4.8,5.4,6,6.6,7.2,7.8,8.4,9,9.6,10.2]],[-4.1,[4.5,5.1,5.7,6.3,6.9,7.5,8.1,8.7,9.3,9.9,10.4]],[-4.35,[4.8,5.4,6,6.6,7.2,7.8,8.4,9,9.6,10.2]],[-4.6,[4.5,5.1,5.7,6.3,6.9,7.5,8.1,8.7,9.3,9.9,10.4]],[-4.85,[4.8,5.4,6,6.6,7.2,7.8,8.4,9,9.6,10.2]],[-5.1,[4.5,5.1,5.7,6.3,6.9,7.5,8.1,8.7,9.3,9.9,10.4]],[-5.35,[4.8,5.4,6,6.6,7.2,7.8,8.4,9,9.6,10.2]],[-5.6,[5.1,5.7,6.3,6.9,7.5,8.1,8.7,9.3,9.9,10.4]],[-5.85,[5.5,6,6.6,7.2,7.8,8.4,9,9.6,10.2]],[-6.1,[5.2,5.9,6.5,7.1,7.7,8.3,8.9,9.5,10.1,10.6]],[-6.35,[5.6,6.2,6.8,7.4,8,8.6,9.2,9.8,10.4]],[-6.6,[5.4,6,6.9,7.6,8.2,8.8,9.4,10,10.6]],[-6.85,[6.2,7.3,8,8.6,9.2,9.8,10.4]],[-7.1,[5.8,6.7,7.6,8.2,8.9,9.5,10.1,10.7]],[-7.35,[7.3,8.6,9.3,9.9,10.5]],[-7.6,[8.1,8.9,9.7,10.3,10.8]]
];

const xRange = [0.13, 71.9];

const rowsToPoints = rows => rows.flatMap(([y, prices]) => prices.map(x => [x, y]));
const columnsToPoints = cols => cols.flatMap(([x, values]) => values.map(y => [x, y]));

const frame = {
    id: 'frame',
    afterDraw(chart) {
        const { ctx, chartArea: a } = chart;
        ctx.save();
        ctx.strokeStyle = '#262626';
        ctx.lineWidth = 1;
        ctx.strokeRect(a.left, a.top, a.right - a.left, a.bottom - a.top);
        ctx.restore();
    }
};

const minus = v => (v < 0 ? '\u2212' + Math.abs(v) : String(v));

function drawPanel(id, points, yMin, yMax, yTicks, cfg) {
    new Chart(document.getElementById(id), {
        type: 'scatter',
        data: {
            datasets: [
                { data: points, backgroundColor: '#1f77b4', borderWidth: 0, pointRadius: 2.2, order: 2 },
                {
                    type: 'line',
                    data: [{ x: xRange[0], y: 0 }, { x: xRange[1], y: 0 }],
                    borderColor: '#808080',
                    borderWidth: 2,
                    borderDash: [7.4, 3.2],
                    pointRadius: 0,
                    order: 1
                }
            ]
        },
        options: {
            responsive: false,
            animation: false,
            layout: { padding: { left: cfg.padLeft, top: cfg.padTop, right: cfg.padRight, bottom: 0 } },
            plugins: { legend: { display: false }, tooltip: { enabled: false } },
            scales: {
                x: {
                    type: 'linear',
                    min: xRange[0],
                    max: xRange[1],
                    afterBuildTicks: s => { s.ticks = xTicks.map(v => ({ value: v })); },
                    afterFit: s => { s.height = 350 - cfg.axisBottom; s.paddingLeft = 0; s.paddingRight = 0; },
                    border: { display: false },
                    grid: { drawOnChartArea: false, color: '#262626', tickLength: 4 },
                    ticks: { color: '#262626', padding: 5, maxRotation: 0, autoSkip: false, font: { family: 'DejaVu Sans', size: 12 } },
                    title: { display: true, text: 'Price (K dollars)', color: '#262626', padding: { top: 0, bottom: 16 }, font: { family: 'DejaVu Sans', size: 13 } }
                },
                y: {
                    type: 'linear',
                    min: yMin,
                    max: yMax,
                    afterBuildTicks: s => { s.ticks = yTicks.map(v => ({ value: v })); },
                    afterFit: s => { s.width = cfg.axisWidth; s.paddingTop = 0; s.paddingBottom = 0; },
                    border: { display: false },
                    grid: { drawOnChartArea: false, color: '#262626', tickLength: 4 },
                    ticks: { color: '#262626', padding: 6, autoSkip: false, callback: minus, font: { family: 'DejaVu Sans', size: 12 } },
                    title: { display: true, text: 'Self-Elasticity', color: '#262626', padding: 0, font: { family: 'DejaVu Sans', size: 13 } }
                }
            }
        },
        plugins: [frame]
    });
}

drawPanel('panelA', pointsA.concat(rowsToPoints(cloudA)), -6.23, 4.48, yTicksA, { padLeft: 10.2, padTop: 9.3, padRight: 96.3, axisBottom: 293, axisWidth: 48.3 });
drawPanel('panelB', pointsB.concat(rowsToPoints(cloudB), columnsToPoints(columnsB)), -20, 10, yTicksB, { padLeft: 88.2, padTop: 9.3, padRight: 0.7, axisBottom: 293, axisWidth: 56.1 });
drawPanel('panelC', pointsC.concat(rowsToPoints(cloudC)), -20, 10, yTicksC, { padLeft: 2.2, padTop: 9, padRight: 96.3, axisBottom: 293.3, axisWidth: 56.3 });
drawPanel('panelD', pointsD.concat(rowsToPoints(cloudD)), -23.5, 12.4, yTicksD, { padLeft: 88.2, padTop: 9, padRight: 0.7, axisBottom: 293.3, axisWidth: 56.1 });
</script>
</body>
</html>
